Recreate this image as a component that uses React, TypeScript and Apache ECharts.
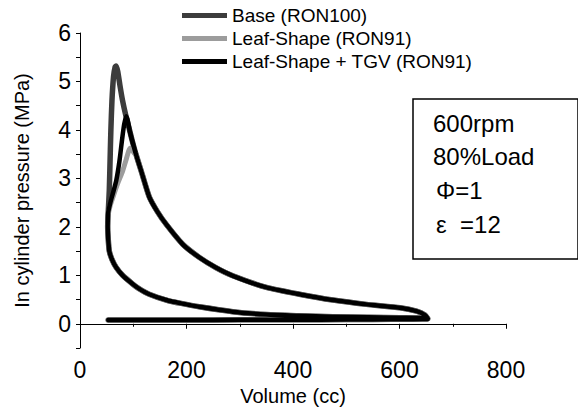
import React, { useEffect, useRef } from 'react';
import * as echarts from 'echarts';

const seriesNames = ['Base (RON100)', 'Leaf-Shape (RON91)', 'Leaf-Shape + TGV (RON91)'];

// shared parts of the cycle (V in cc, P in MPa)
const intakeLine: number[][] = [[53, 0.08], [150, 0.08], [250, 0.08], [350, 0.085], [450, 0.085], [550, 0.09], [620, 0.095], [653, 0.1]];
const compression: number[][] = [[653, 0.11], [640, 0.12], [601, 0.125], [540, 0.135], [475, 0.145], [410, 0.165], [350, 0.19], [287, 0.25], [224, 0.35], [190, 0.42], [162, 0.49], [130, 0.61], [110, 0.73], [99, 0.82], [80, 1.0], [68, 1.16], [60, 1.33], [55, 1.5], [53, 1.75], [52, 2.0]];
const expansion: number[][] = [[105, 3.5], [115, 3.15], [130, 2.62], [145, 2.32], [162, 2.05], [193, 1.64], [224, 1.37], [255, 1.16], [287, 0.99], [350, 0.75], [412, 0.61], [475, 0.49], [538, 0.4], [601, 0.33], [632, 0.26], [648, 0.18], [653, 0.11]];

// combustion parts per case
const baseCombustion: number[][] = [[53, 2.3], [55, 2.75], [57, 3.6], [58, 4.0], [60, 4.6], [63, 5.1], [66, 5.3], [68, 5.32], [71, 5.2], [75, 4.92], [80, 4.6], [86, 4.3], [93, 4.0], [98, 3.78]];
const leafCombustion: number[][] = [[53, 2.25], [57, 2.45], [63, 2.65], [71, 2.9], [80, 3.15], [87, 3.4], [91, 3.55], [94, 3.62], [98, 3.58], [102, 3.52]];
const tgvCombustion: number[][] = [[53, 2.3], [57, 2.5], [62, 2.7], [68, 2.95], [74, 3.35], [79, 3.8], [83, 4.12], [87, 4.28], [90, 4.18], [93, 4.0], [98, 3.78]];

const boxLines = ['600rpm', '80%Load', 'Φ=1', 'ε  =12'];

const FONT = 'Liberation Sans, Arial, Helvetica, sans-serif';

export default function App() {
  const ref = useRef<HTMLDivElement>(null);
  useEffect(() => {
    const chart = echarts.init(ref.current!, null, { renderer: 'svg' });
    const loop = (comb: number[][]) => [...intakeLine, ...compression, ...comb, ...expansion];
    const colors = ['#3c3c3c', '#9c9c9c', '#000000'];
    const widths = [5.5, 5, 4.5];
    const datas = [loop(baseCombustion), loop(leafCombustion), loop(tgvCombustion)];
    const boxY = [123, 156, 190, 224];
    chart.setOption({
      animation: false,
      backgroundColor: '#fff',
      grid: { left: 80, right: 72, top: 33, bottom: 70 },
      legend: {
        orient: 'vertical',
        left: 182,
        top: 6,
        padding: 0,
        itemGap: 4,
        itemWidth: 45,
        itemHeight: 5,
        icon: 'rect',
        data: seriesNames,
        textStyle: { fontSize: 19, color: '#000', fontFamily: FONT },
      },
      xAxis: {
        type: 'value',
        min: 0,
        max: 800,
        interval: 200,
        name: 'Volume (cc)',
        nameLocation: 'middle',
        nameGap: 38,
        nameTextStyle: { fontSize: 20, color: '#000', fontFamily: FONT },
        axisLine: { show: true, lineStyle: { color: '#000', width: 1 } },
        axisTick: { show: true, length: 5, lineStyle: { color: '#000' } },
        minorTick: { show: true, splitNumber: 2, length: 3, lineStyle: { color: '#000' } },
        splitLine: { show: false },
        axisLabel: { fontSize: 23, color: '#000', fontFamily: FONT, margin: 10 },
      },
      yAxis: {
        type: 'value',
        min: -0.5,
        max: 6,
        interval: 0.5,
        name: 'In cylinder pressure (MPa)',
        nameLocation: 'middle',
        nameGap: 48,
        nameTextStyle: { fontSize: 20, color: '#000', fontFamily: FONT },
        axisLine: { show: true, lineStyle: { color: '#000', width: 1 } },
        axisTick: { show: true, length: 4, lineStyle: { color: '#000' } },
        splitLine: { show: false },
        axisLabel: {
          fontSize: 23,
          color: '#000',
          fontFamily: FONT,
          margin: 9,
          formatter: (v: number) => (Math.abs(v - Math.round(v)) < 1e-6 ? String(Math.round(v)) : ''),
        },
      },
      series: seriesNames.map((name, i) => ({
        name,
        type: 'line',
        data: datas[i],
        color: colors[i],
        showSymbol: false,
        symbol: 'none',
        smooth: 0.2,
        lineStyle: { color: colors[i], width: widths[i], cap: 'round', join: 'round' },
        z: 2 + i,
      })),
      graphic: [
        {
          type: 'rect',
          shape: { x: 413, y: 99, width: 165, height: 160 },
          style: { fill: 'none', stroke: '#000', lineWidth: 1.5 },
        },
        ...boxLines.map((t, i) => ({
          type: 'text',
          x: i >= 2 ? 436 : 433,
          y: boxY[i],
          style: { text: t, fontSize: 24, fontFamily: FONT, fill: '#000', verticalAlign: 'middle' },
        })),
      ],
    });
    return () => chart.dispose();
  }, []);
  return <div ref={ref} style={{ position: 'fixed', left: 0, top: 0, width: 578, height: 418, background: '#fff' }} />;
}
